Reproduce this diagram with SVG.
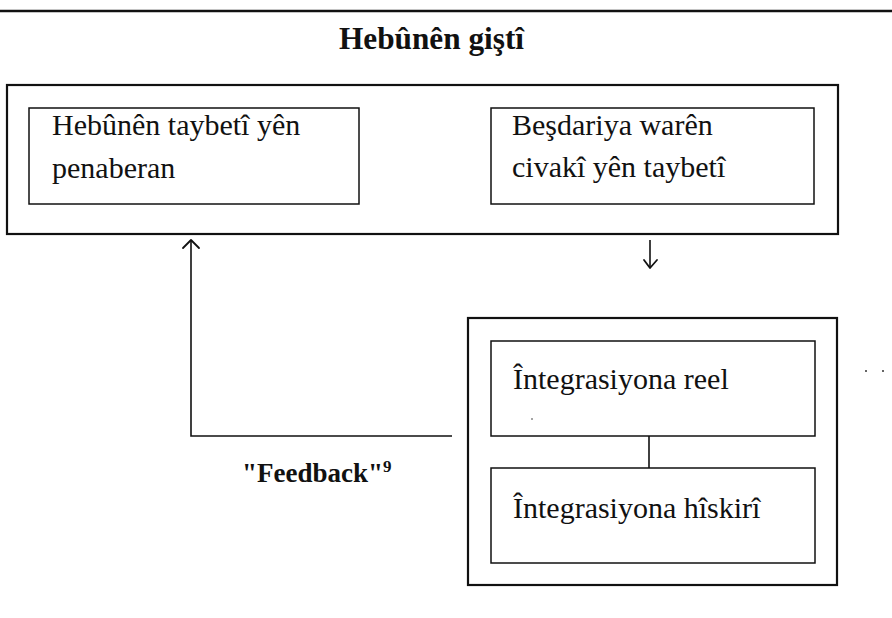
<svg xmlns="http://www.w3.org/2000/svg" width="892" height="618" viewBox="0 0 892 618">
<style>
.outer{fill:none;stroke:#111;stroke-width:2.2}
.inner{fill:none;stroke:#111;stroke-width:1.5}
.t{font-family:"Liberation Serif","Times New Roman",serif;font-size:30px;fill:#111}
.b{font-family:"Liberation Serif","Times New Roman",serif;font-weight:bold;fill:#111}
.c{fill:none;stroke:#111;stroke-width:1.6}
.ah{fill:none;stroke:#111;stroke-width:1.8;stroke-linecap:round;stroke-linejoin:round}
</style>
<rect width="892" height="618" fill="#fff"/>
<line x1="0" y1="11" x2="892" y2="11" stroke="#111" stroke-width="2.5"/>
<text id="title" class="b" x="339" y="49" font-size="31" textLength="185" lengthAdjust="spacingAndGlyphs">Hebûnên giştî</text>
<g id="top-group">
<rect class="outer" x="7" y="85" width="831" height="149"/>
<g id="node-hebunen-taybeti">
<rect class="inner" x="29" y="108" width="330" height="96"/>
<text class="t" x="52" y="135">Hebûnên taybetî yên</text>
<text class="t" x="52" y="178">penaberan</text>
</g>
<g id="node-besdariya">
<rect class="inner" x="491" y="108" width="323" height="96"/>
<text class="t" x="512" y="135">Beşdariya warên</text>
<text class="t" x="512" y="177">civakî yên taybetî</text>
</g>
</g>
<g id="bottom-group">
<rect class="outer" x="468" y="318" width="369" height="267"/>
<g id="node-integrasiyona-reel">
<rect class="inner" x="491" y="341" width="324" height="95"/>
<text class="t" x="513" y="389">Întegrasiyona reel</text>
</g>
<g id="node-integrasiyona-hiskiri">
<rect class="inner" x="491" y="468" width="324" height="95"/>
<text class="t" x="513" y="518">Întegrasiyona hîskirî</text>
</g>
</g>
<g id="connectors">
<line class="c" x1="649" y1="436" x2="649" y2="468"/>
<polyline class="c" points="452,436 191,436 191,240"/>
<polyline class="ah" points="183,248 191,240 199,248"/>
<line class="c" x1="650" y1="240" x2="650" y2="268"/>
<polyline class="ah" points="644,260 650,268 657,260"/>
</g>
<text id="feedback" class="b" x="242" y="482" font-size="27">"Feedback"<tspan font-size="17" dy="-10">9</tspan></text>
<circle cx="866" cy="371" r="1" fill="#333"/>
<circle cx="883" cy="371" r="1" fill="#333"/>
<circle cx="532" cy="419" r="0.8" fill="#333"/>
</svg>
